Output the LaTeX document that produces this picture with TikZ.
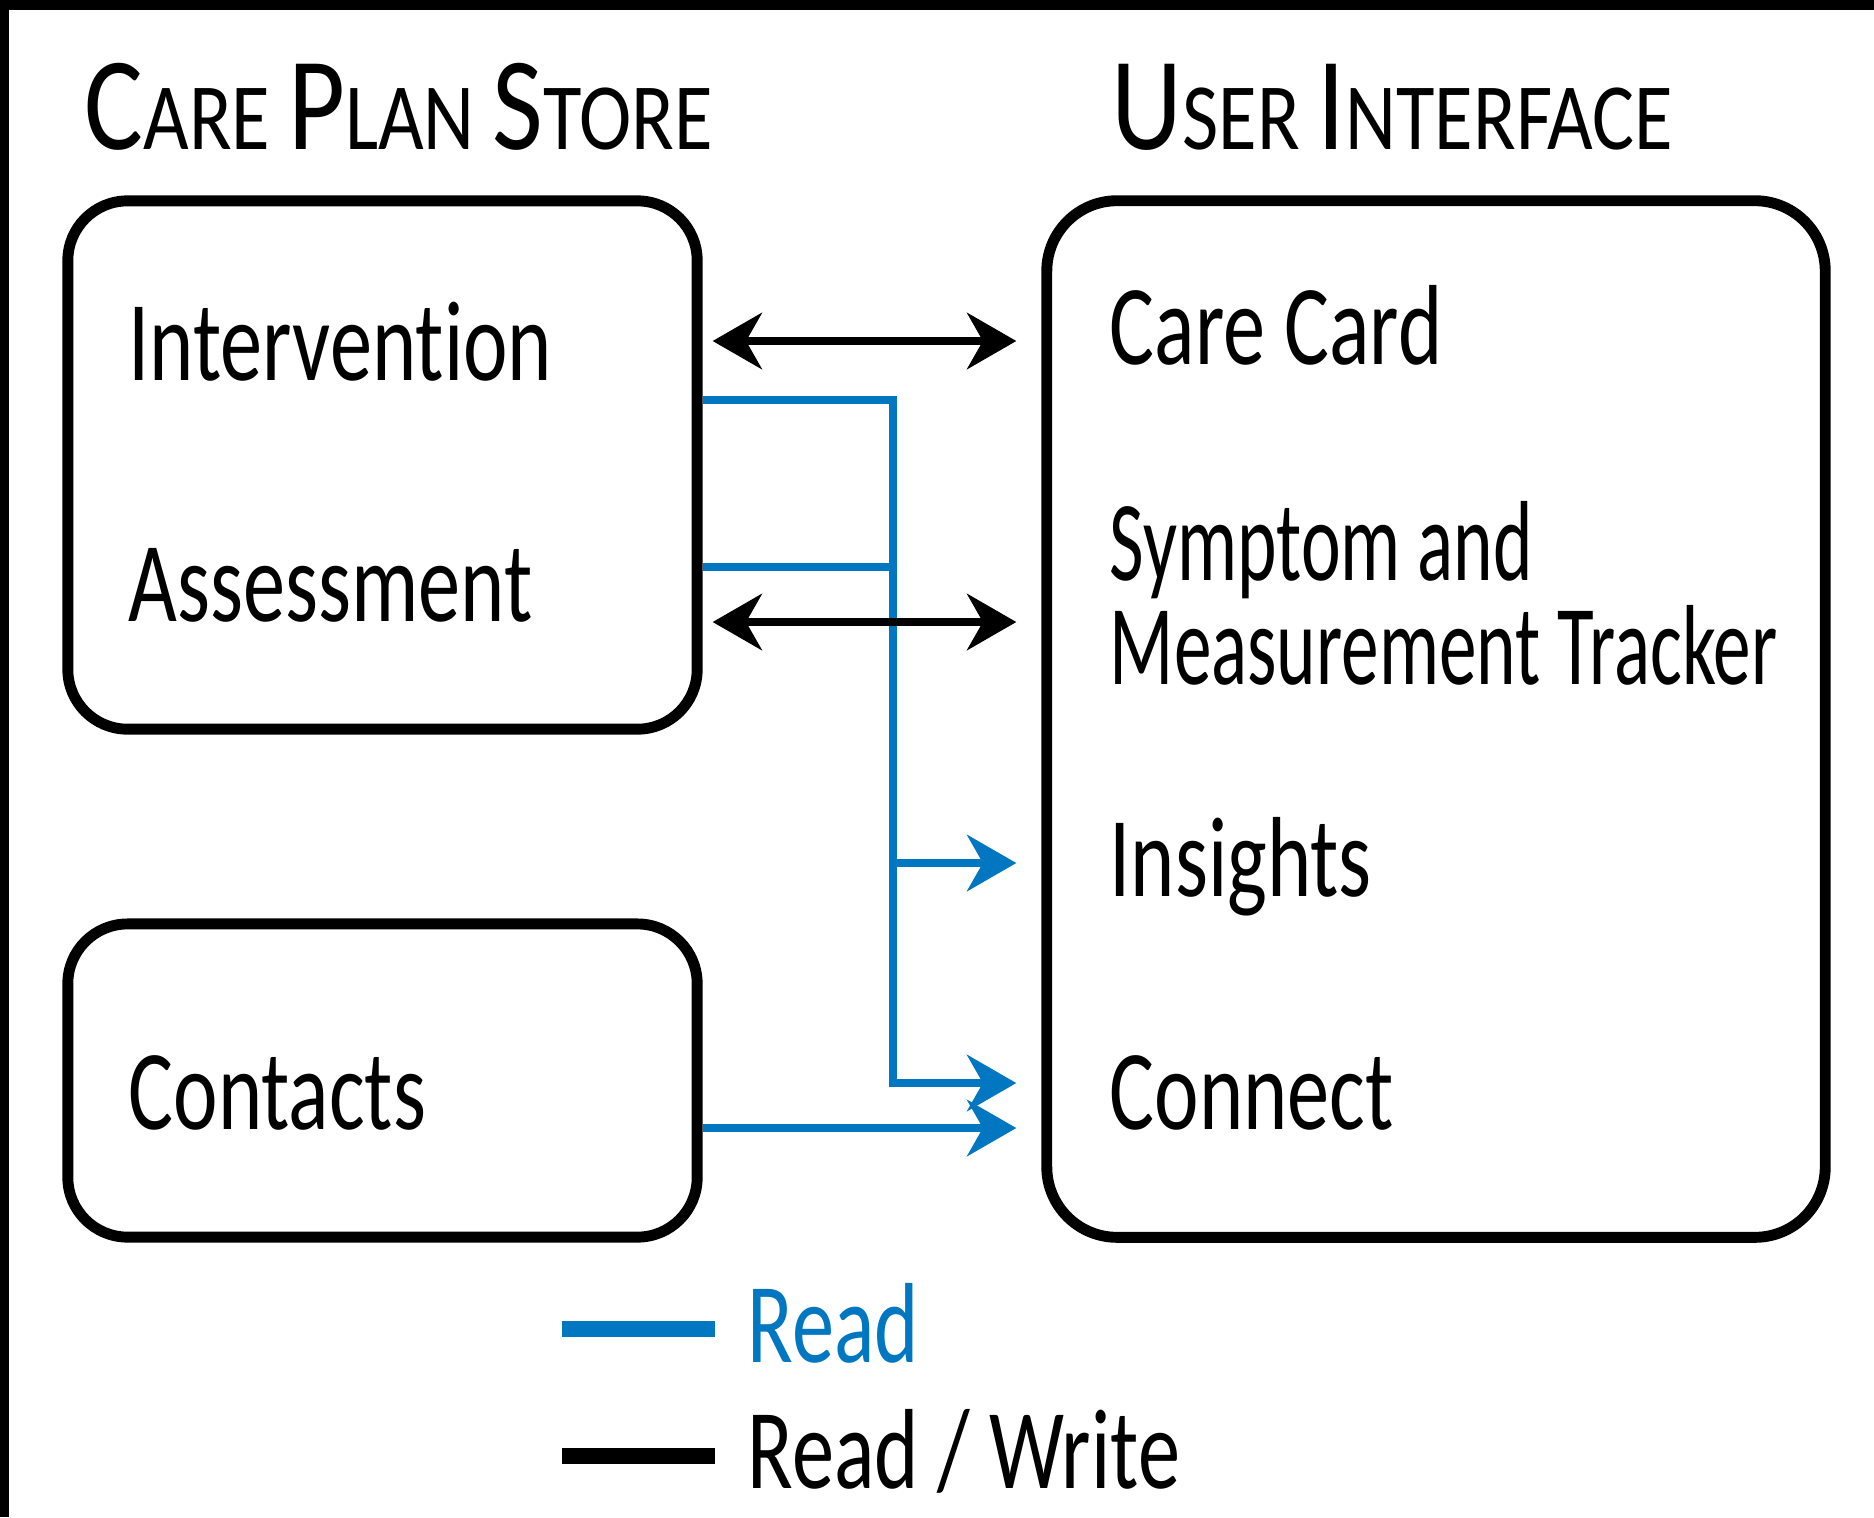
\documentclass[tikz,border=0pt]{standalone}
\usepackage{fontspec}
\setmainfont{Carlito}[FakeStretch=0.74, Ligatures=NoCommon]
\newfontfamily\titlefont{Carlito}[FakeStretch=0.83]
\newfontfamily\narrowfont{Carlito}[FakeStretch=0.66, Ligatures=NoCommon]
\usetikzlibrary{arrows.meta}
\definecolor{readblue}{RGB}{0,119,192}
\newcommand{\capword}[2]{{\fontsize{37.8pt}{38pt}\selectfont #1}{\fontsize{27pt}{28pt}\selectfont #2}}
\tikzset{
  panel/.style={draw, line width=3.1pt, rounded corners=17pt, inner sep=0pt},
  txt/.style={anchor=base west, inner sep=0pt, font=\fontsize{32.4pt}{34pt}\selectfont},
  ttl/.style={anchor=base west, inner sep=0pt, font=\titlefont\fontsize{27pt}{28pt}\selectfont},
  tip/.tip={Stealth[length=14pt, width=16pt, inset=4.5pt]},
  rw/.style={line width=2.2pt, tip-tip, shorten <=0.1cm, shorten >=0.25cm},
  rdline/.style={readblue, line width=2.2pt},
  rd/.style={rdline, -tip, shorten >=0.25cm},
}

\begin{document}
\begin{tikzpicture}[x=0.01cm, y=-0.01cm]
  \useasboundingbox (0,0) rectangle (1874,1517);
  \fill (0,0) rectangle (1874,10);
  \fill (0,0) rectangle (9,1517);

  % Boxes
  \node[panel, minimum width=6.29cm, minimum height=5.28cm] (store) at (382.5,465) {};
  \node[panel, minimum width=6.29cm, minimum height=3.13cm] (contacts) at (382.5,1080.5) {};
  \node[panel, minimum width=7.78cm, minimum height=10.36cm, rounded corners=20pt] (ui) at (1436,719) {};

  % Titles
  \node[ttl] (storeTitle) at (84,149) {\capword{C}{ARE} \capword{P}{LAN} \capword{S}{TORE}};
  \node[ttl] (uiTitle) at (1111,149) {\capword{U}{SER} \capword{I}{NTERFACE}};

  % Items
  \node[txt] (interv) at (128,380) {Intervention};
  \node[txt] (assess) at (128,621) {Assessment};
  \node[txt] (cont) at (128,1129) {Contacts};
  \node[txt] (card) at (1109,364) {Care Card};
  \node[txt, font=\narrowfont\fontsize{32.4pt}{34pt}\selectfont] (symptom) at (1109,580) {Symptom and};
  \node[txt, font=\narrowfont\fontsize{32.4pt}{34pt}\selectfont] (tracker) at (1109,684) {Measurement Tracker};
  \node[txt] (insights) at (1109,896) {Insights};
  \node[txt] (connect) at (1109,1129) {Connect};

  % Read
  \coordinate (bus) at (893,400);
  \draw[rd] (store.east |- bus) -- (bus) -- (bus |- 0,1083) -- (ui.west |- 0,1083);
  \draw[rdline] (store.east |- 0,567) -- (bus |- 0,567);
  \draw[rd] (bus |- 0,863) -- (ui.west |- 0,863);
  \draw[rd] (contacts.east |- 0,1128) -- (ui.west |- 0,1128);

  % Read / Write
  \draw[rw] (store.east |- 0,341) -- (ui.west |- 0,341);
  \draw[rw] (store.east |- 0,622) -- (ui.west |- 0,622);

  % Legend
  \draw[readblue, line width=4.8pt] (562,1329) -- (715,1329);
  \draw[line width=4.8pt] (562,1456) -- (715,1456);
  \node[txt, readblue] (readKey) at (747,1362) {Read};
  \node[txt] (rwKey) at (747,1488) {Read / Write};
\end{tikzpicture}
\end{document}
